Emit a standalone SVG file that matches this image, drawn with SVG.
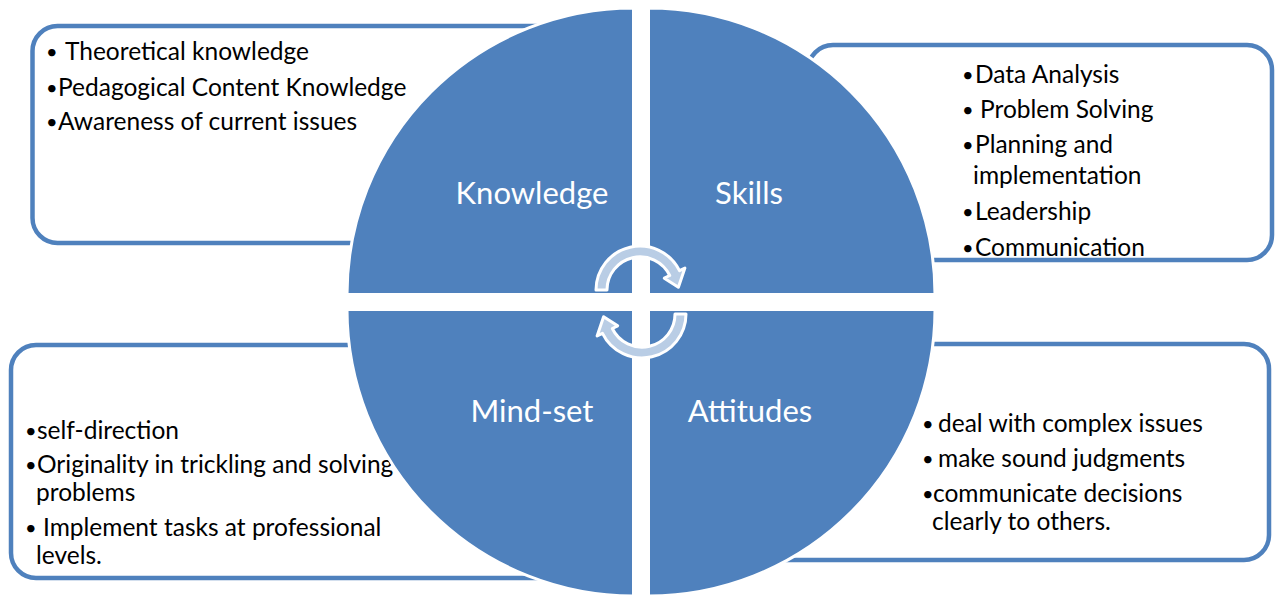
<svg xmlns="http://www.w3.org/2000/svg" width="1277" height="596" viewBox="0 0 1277 596">
<style>
.box{fill:#ffffff;stroke:#4F81BD;stroke-width:4.5}
.quad{fill:#4F81BD;stroke:#ffffff;stroke-width:3}
.txt{font-family:Lato,"Noto Sans",sans-serif;font-size:24.5px;fill:#000000}
.b{font-size:20px}
.lbl{font-family:Lato,"Noto Sans",sans-serif;font-size:31px;fill:#ffffff;text-anchor:middle}
.arr{fill:#B9CDE5;stroke:#ffffff;stroke-width:3;stroke-linejoin:round}
</style>
<rect width="1277" height="596" fill="#ffffff"/>
<g id="knowledge">
<rect class="box" x="32.5" y="26" width="570" height="217" rx="25"/>
<text class="txt"><tspan class="b" x="46" y="58.5">•</tspan><tspan x="65" y="60">Theoretical knowledge</tspan></text>
<text class="txt"><tspan class="b" x="46" y="94.5">•</tspan><tspan x="58" y="96">Pedagogical Content Knowledge</tspan></text>
<text class="txt"><tspan class="b" x="46" y="128.5">•</tspan><tspan x="58" y="130">Awareness of current issues</tspan></text>
<path class="quad" d="M633.5,294.5 L347,294.5 A286.5,286.5 0 0 1 633.5,8 Z"/>
<text class="lbl" x="532" y="204">Knowledge</text>
</g>
<g id="skills">
<rect class="box" x="808" y="45" width="464" height="215" rx="25"/>
<text class="txt"><tspan class="b" x="962" y="81.5">•</tspan><tspan x="975" y="83">Data Analysis</tspan></text>
<text class="txt"><tspan class="b" x="962" y="116.5">•</tspan><tspan x="980" y="118">Problem Solving</tspan></text>
<text class="txt"><tspan class="b" x="962" y="151.5">•</tspan><tspan x="975" y="153">Planning and</tspan></text>
<text class="txt" x="973" y="184">implementation</text>
<text class="txt"><tspan class="b" x="962" y="218.5">•</tspan><tspan x="975" y="220">Leadership</tspan></text>
<text class="txt"><tspan class="b" x="962" y="254.5">•</tspan><tspan x="975" y="256">Communication</tspan></text>
<path class="quad" d="M648.5,294.5 L648.5,8 A286.5,286.5 0 0 1 935,294.5 Z"/>
<text class="lbl" x="749" y="204">Skills</text>
</g>
<g id="mindset">
<rect class="box" x="11" y="345" width="590" height="233" rx="25"/>
<text class="txt"><tspan class="b" x="25" y="437.5">•</tspan><tspan x="37" y="439">self-direction</tspan></text>
<text class="txt"><tspan class="b" x="25" y="471.5">•</tspan><tspan x="37" y="473">Originality in trickling and solving</tspan></text>
<text class="txt" x="36" y="501">problems</text>
<text class="txt"><tspan class="b" x="25" y="534.5">•</tspan><tspan x="43" y="536">Implement tasks at professional</tspan></text>
<text class="txt" x="36" y="564">levels.</text>
<path class="quad" d="M633.5,309.5 L633.5,596 A286.5,286.5 0 0 1 347,309.5 Z"/>
<text class="lbl" x="532" y="422">Mind-set</text>
</g>
<g id="attitudes">
<rect class="box" x="700" y="344" width="569" height="216" rx="25"/>
<text class="txt"><tspan class="b" x="922" y="430.5">•</tspan><tspan x="938" y="432">deal with complex issues</tspan></text>
<text class="txt"><tspan class="b" x="922" y="465.5">•</tspan><tspan x="938" y="467">make sound judgments</tspan></text>
<text class="txt"><tspan class="b" x="922" y="500.5">•</tspan><tspan x="933" y="502">communicate decisions</tspan></text>
<text class="txt" x="932" y="530">clearly to others.</text>
<path class="quad" d="M648.5,309.5 L935,309.5 A286.5,286.5 0 0 1 648.5,596 Z"/>
<text class="lbl" x="750" y="422">Attitudes</text>
</g>
<g id="connectors">
<path class="arr" d="M596,290 A44,44 0 0 1 679.5,270.7 L684.9,268.1 L678.4,287.3 L664.3,278.2 L669.7,275.5 A33,33 0 0 0 607,290 Z"/>
<path class="arr" transform="rotate(180 641 302)" d="M596,290 A44,44 0 0 1 679.5,270.7 L684.9,268.1 L678.4,287.3 L664.3,278.2 L669.7,275.5 A33,33 0 0 0 607,290 Z"/>
</g>
</svg>
